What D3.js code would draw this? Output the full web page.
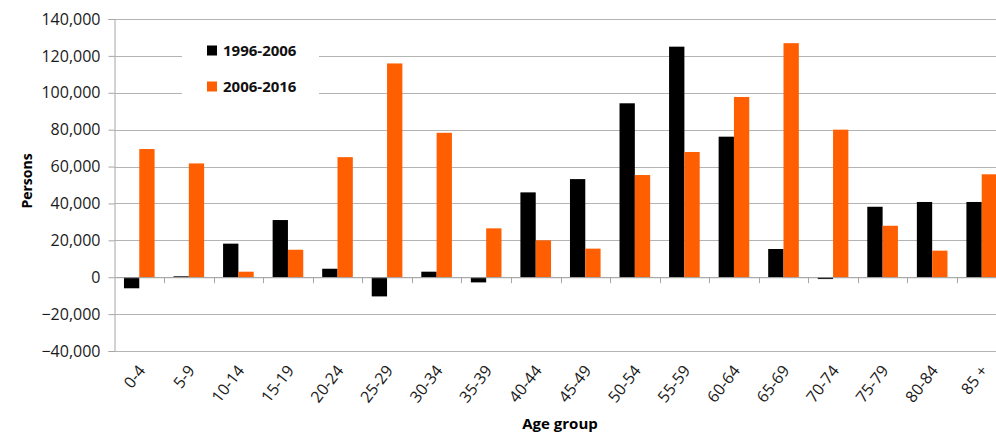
<!DOCTYPE html>
<html>
<head>
<meta charset="utf-8">
<script src="https://cdn.jsdelivr.net/npm/d3@7"></script>
<style>
  html, body { margin: 0; padding: 0; background: #fff; overflow: hidden; }
  svg { display: block; font-family: "Open Sans", Lato, sans-serif; }
</style>
</head>
<body>
<svg id="chart" width="996" height="433"></svg>
<script>
// Population change by age group, two ten-year periods
const ageGroups = ["0-4","5-9","10-14","15-19","20-24","25-29","30-34","35-39","40-44",
                   "45-49","50-54","55-59","60-64","65-69","70-74","75-79","80-84","85 +"];
const change1996_2006 = [-6000, 500, 18200, 31000, 4600, -10400, 3000, -2800, 46000,
                         53200, 94300, 125000, 76200, 15300, -1000, 38200, 40800, 40800];
const change2006_2016 = [69500, 61700, 3000, 14900, 65100, 115900, 78300, 26500, 20000,
                         15500, 55400, 67900, 97700, 126900, 80000, 27900, 14400, 55800];
const seriesNames = ["1996-2006", "2006-2016"];
const yTicks = [-40000, -20000, 0, 20000, 40000, 60000, 80000, 100000, 120000, 140000];

const colors = ["#000000", "#ff5f00"];
const svg = d3.select("#chart");

const plotLeft = 114.5, plotRight = 1006.5, plotTop = 19, plotBottom = 351;

const x = d3.scaleBand().domain(ageGroups).range([plotLeft, plotRight]).paddingInner(0).paddingOuter(0);
const y = d3.scaleLinear().domain([-40000, 140000]).range([plotBottom, plotTop]);
const barW = x.bandwidth() * 0.309;

// horizontal gridlines
svg.append("g").selectAll("line")
  .data(yTicks)
  .join("line")
  .attr("x1", plotLeft).attr("x2", plotRight)
  .attr("y1", d => Math.round(y(d)) + 0.5).attr("y2", d => Math.round(y(d)) + 0.5)
  .attr("stroke", "#b4b4b4").attr("stroke-width", 1);

// y axis
const yAxis = d3.axisLeft(y).tickValues(yTicks).tickSize(6).tickPadding(8)
  .tickFormat(d3.format(","));
const gy = svg.append("g").attr("transform", `translate(${plotLeft},0)`).call(yAxis);
gy.select(".domain").attr("stroke", "#a6a6a6");
gy.selectAll(".tick line").attr("stroke", "#a6a6a6");
gy.selectAll(".tick text").attr("font-size", 16).attr("fill", "#1a1a1a")
  .attr("font-family", "'Open Sans', Lato, sans-serif");

// bars
const groups = svg.append("g").selectAll("g")
  .data(ageGroups)
  .join("g")
  .attr("transform", d => `translate(${x(d) + x.bandwidth() / 2},0)`);

[change1996_2006, change2006_2016].forEach((vals, s) => {
  groups.append("rect")
    .attr("x", s === 0 ? -barW : 0)
    .attr("width", barW)
    .attr("y", (d, i) => y(Math.max(0, vals[i])))
    .attr("height", (d, i) => Math.abs(y(vals[i]) - y(0)))
    .attr("fill", colors[s]);
});

// x axis along zero
const xAxis = d3.axisBottom(x).tickSize(0).tickFormat("");
const gx = svg.append("g").attr("transform", `translate(0,${y(0)})`).call(xAxis);
gx.select(".domain").attr("stroke", "#a6a6a6");
svg.append("g").selectAll("line")
  .data(ageGroups.slice(1))
  .join("line")
  .attr("x1", d => Math.round(x(d)) + 0.5).attr("x2", d => Math.round(x(d)) + 0.5)
  .attr("y1", y(0)).attr("y2", y(0) + 6)
  .attr("stroke", "#a6a6a6");

// rotated category labels below the plot
svg.append("g").selectAll("text")
  .data(ageGroups)
  .join("text")
  .attr("transform", d => `translate(${x(d) + x.bandwidth() / 2 - 2},${plotBottom + 13}) rotate(-52)`)
  .attr("text-anchor", "end")
  .attr("dy", "0.7em")
  .attr("font-size", 16)
  .attr("fill", "#1a1a1a")
  .text(d => d);

// axis titles
svg.append("text")
  .attr("transform", `translate(32,${181}) rotate(-90)`)
  .attr("text-anchor", "middle")
  .attr("font-weight", "bold").attr("font-size", 14)
  .text("Persons");

svg.append("text")
  .attr("x", 560).attr("y", 429)
  .attr("text-anchor", "middle")
  .attr("font-weight", "bold").attr("font-size", 15)
  .text("Age group");

// legend
const legend = svg.append("g");
legend.append("rect").attr("x", 182).attr("y", 26).attr("width", 137).attr("height", 74)
  .attr("fill", "#fff");
seriesNames.forEach((name, i) => {
  const ly = 50 + i * 36;
  legend.append("rect").attr("x", 207).attr("y", ly - 4.5).attr("width", 10).attr("height", 10)
    .attr("fill", colors[i]);
  legend.append("text").attr("x", 223).attr("y", ly + 6)
    .attr("font-weight", "bold").attr("font-size", 15).attr("fill", "#111")
    .text(name);
});
</script>
</body>
</html>
